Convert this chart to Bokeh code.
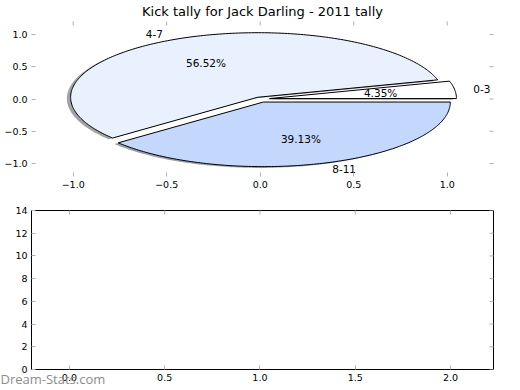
import numpy as np
from bokeh.plotting import figure
from bokeh.layouts import column
from bokeh.models import Title, FixedTicker, Range1d
from bokeh.core.properties import value
from bokeh.embed import file_html
from bokeh.resources import INLINE

TITLE = "Kick tally for Jack Darling - 2011 tally"
categories = ["0-3", "4-7", "8-11"]
counts = [1, 13, 9]
explode = [0.05, 0.03, 0.05]
slice_colors = ["#ffffff", "#eaf1fe", "#c4d8fe"]
pie_ticks = [-1.0, -0.5, 0.0, 0.5, 1.0]
pie_tick_labels = ["\u22121.0", "\u22120.5", "0.0", "0.5", "1.0"]
bar_xticks = [0.0, 0.5, 1.0, 1.5, 2.0]
bar_xtick_labels = ["0.0", "0.5", "1.0", "1.5", "2.0"]
bar_yticks = [0, 2, 4, 6, 8, 10, 12, 14]
watermark = "Dream-Stats.com"

FONT = "DejaVu Sans"
TICK_GRAY = "#b0b0b0"
TICK_FS = "9.5px"

# ---- pie geometry derived from the counts ----
total = float(sum(counts))
fracs = [c / total for c in counts]
starts = np.cumsum([0.0] + fracs[:-1]) * 2 * np.pi
ends = starts + np.array(fracs) * 2 * np.pi

wx, wy, shx, shy, shcol = [], [], [], [], []
lab_l, lab_r, pct = {"x": [], "y": [], "t": []}, {"x": [], "y": [], "t": []}, {"x": [], "y": [], "t": []}
for a0, a1, ex, col, cat, fr in zip(starts, ends, explode, slice_colors, categories, fracs):
    tm = 0.5 * (a0 + a1)
    cx, cy = ex * np.cos(tm), ex * np.sin(tm)
    n = max(int(np.degrees(a1 - a0)), 2) + 1
    t = np.linspace(a0, a1, n)
    px = np.concatenate([[cx], cx + np.cos(t), [cx]])
    py = np.concatenate([[cy], cy + np.sin(t), [cy]])
    wx.append(list(px)); wy.append(list(py))
    shx.append(list(px - 0.02)); shy.append(list(py - 0.02))
    r, g, b = int(col[1:3], 16), int(col[3:5], 16), int(col[5:7], 16)
    shcol.append("#%02x%02x%02x" % (int(r * 0.3), int(g * 0.3), int(b * 0.3)))
    lx, ly = cx + 1.1 * np.cos(tm), cy + 1.1 * np.sin(tm)
    d = lab_l if lx > 0 else lab_r
    d["x"].append(lx); d["y"].append(ly); d["t"].append(cat)
    pct["x"].append(cx + 0.6 * np.cos(tm)); pct["y"].append(cy + 0.6 * np.sin(tm))
    pct["t"].append("%.2f%%" % (fr * 100))


def style_axis(ax, ticks, overrides=None, standoff=4):
    ax.ticker = FixedTicker(ticks=ticks)
    if overrides:
        ax.major_label_overrides = overrides
    ax.axis_line_color = None
    ax.major_tick_in = 4
    ax.major_tick_out = 0
    ax.major_tick_line_color = TICK_GRAY
    ax.minor_tick_line_color = None
    ax.major_label_text_font = FONT
    ax.major_label_text_color = "black"
    ax.major_label_text_font_size = TICK_FS
    ax.major_label_standoff = standoff


def mirror_ticks(p, xticks, yticks, xr, yr):
    # inward tick marks on the top and right frame edges (half of each dash is clipped by the frame)
    p.scatter(x=xticks, y=[yr.end] * len(xticks), marker="dash", size=8, angle=np.pi / 2,
              line_color=TICK_GRAY, line_width=1)
    p.scatter(x=[xr.end] * len(yticks), y=yticks, marker="dash", size=8,
              line_color=TICK_GRAY, line_width=1)


# ---- top panel: pie ----
xr1 = Range1d(-1.223, 1.2476)
yr1 = Range1d(-1.2, 1.2)
p1 = figure(width=503, height=195, x_range=xr1, y_range=yr1, title=TITLE,
            output_backend="svg", toolbar_location=None,
            min_border_left=31, min_border_right=10, min_border_top=21, min_border_bottom=19)
p1.title.align = "center"
p1.title.vertical_align = "top"
p1.title.text_font = FONT
p1.title.text_font_size = "13px"
p1.title.text_font_style = "normal"
p1.title.text_color = "black"
p1.title.standoff = 2
p1.grid.visible = False
p1.outline_line_color = None
p1.background_fill_color = "white"
p1.border_fill_color = "white"

pie_over = {t: l for t, l in zip(pie_ticks, pie_tick_labels)}
style_axis(p1.xaxis[0], pie_ticks, pie_over)
style_axis(p1.yaxis[0], pie_ticks, pie_over)

p1.patches(xs=shx, ys=shy, fill_color=shcol, fill_alpha=0.5, line_color=None)
p1.patches(xs=wx, ys=wy, fill_color=slice_colors, line_color="black", line_width=1)
mirror_ticks(p1, pie_ticks, pie_ticks, xr1, yr1)

p1.text(x=lab_l["x"], y=lab_l["y"], text=lab_l["t"], text_align="left", text_baseline="middle",
        text_font=value(FONT), text_font_size="10.5px", text_color="black")
p1.text(x=lab_r["x"], y=lab_r["y"], text=lab_r["t"], text_align="right", text_baseline="middle",
        text_font=value(FONT), text_font_size="10.5px", text_color="black")
p1.text(x=pct["x"], y=pct["y"], text=pct["t"], text_align="center", text_baseline="middle",
        text_font=value(FONT), text_font_size="10.5px", text_color="black")

# ---- bottom panel: empty axes ----
xr2 = Range1d(-0.199, 2.226)
yr2 = Range1d(0, 14)
p2 = figure(width=503, height=195, x_range=xr2, y_range=yr2,
            output_backend="svg", toolbar_location=None,
            min_border_left=31, min_border_right=10, min_border_top=15, min_border_bottom=21)
p2.grid.visible = False
p2.outline_line_color = "black"
p2.outline_line_width = 1
p2.background_fill_color = "white"
p2.border_fill_color = "white"
style_axis(p2.xaxis[0], bar_xticks, {t: l for t, l in zip(bar_xticks, bar_xtick_labels)})
style_axis(p2.yaxis[0], bar_yticks)
mirror_ticks(p2, bar_xticks, bar_yticks, xr2, yr2)

wm = Title(text=watermark, align="left", vertical_align="top", offset=-31, standoff=-28,
           text_font="Open Sans", text_font_size="13px", text_font_style="normal",
           text_color="#8c8c8c")
p2.add_layout(wm, "below")

layout = column(p1, p2)
open("out.html", "w").write(file_html(layout, INLINE))
